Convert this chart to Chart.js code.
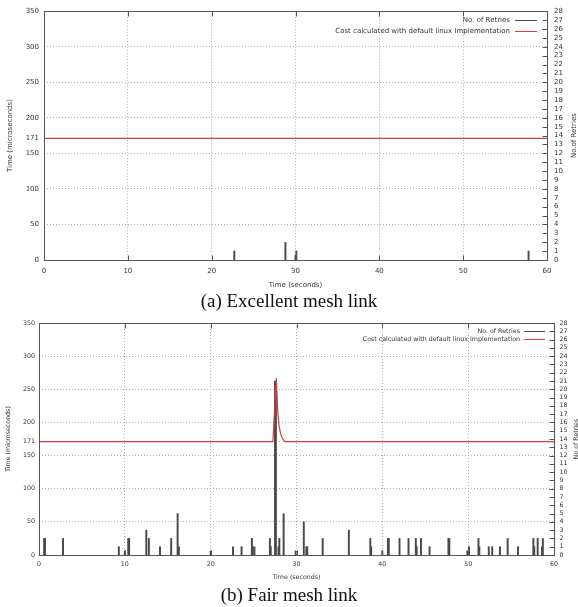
<!DOCTYPE html>
<html>
<head>
<meta charset="utf-8">
<script src="https://cdn.jsdelivr.net/npm/chart.js@4.4.0/dist/chart.umd.min.js"></script>
<style>
    body { margin: 0; background: #fff; width: 578px; height: 607px; position: relative; overflow: hidden; }
    .box { position: absolute; left: 0; width: 578px; }
    .cap { position: absolute; left: 0; width: 578px; text-align: center; font-family: "Liberation Serif", serif; font-size: 19px; line-height: 20px; color: #111; }
</style>
</head>
<body>
<div class="box" style="top:0;height:292px"><canvas id="chartA" width="578" height="292"></canvas></div>
<div class="cap" style="top:291px">(a) Excellent mesh link</div>
<div class="box" style="top:312px;height:272px"><canvas id="chartB" width="578" height="272"></canvas></div>
<div class="cap" style="top:585px">(b) Fair mesh link</div>
<script>
// axis ticks
const timeTicks = [0, 10, 20, 30, 40, 50, 60];
const costTicks = [0, 50, 100, 150, 171, 200, 250, 300, 350];
const retryTicks = [0, 1, 2, 3, 4, 5, 6, 7, 8, 9, 10, 11, 12, 13, 14, 15, 16, 17, 18, 19, 20, 21, 22, 23, 24, 25, 26, 27, 28];

// (a) excellent link
const excellentRetryTimes = [22.7, 28.8, 30.0, 30.1, 57.8];
const excellentRetries = [1, 2, 0.5, 1, 1];
const excellentCostTimes = [0, 60];
const excellentCost = [171, 171];

// (b) fair link
const fairRetryTimes = [0.6, 0.7, 2.8, 9.3, 10.0, 10.4, 10.5, 12.5, 12.8, 14.1, 15.4, 16.15, 16.3,
    20.0, 22.6, 23.6, 24.8, 24.9, 25.1, 26.9, 27.0, 27.5, 27.6, 27.9, 28.0, 28.5, 29.9,
    30.85, 31.15, 31.25, 33.05, 36.1, 38.6, 38.7, 40.0, 40.65, 40.75, 42.0, 43.05, 43.9, 44.0,
    44.5, 45.5, 47.7, 47.8, 49.9, 50.1, 51.2, 51.3, 52.4, 52.8, 53.7, 54.6, 55.8, 57.6,
    57.7, 58.1, 58.6, 58.7];
const fairRetries = [2, 2, 2, 1, 0.5, 2, 2, 3, 2, 1, 2, 5, 1,
    0.5, 1, 1, 2, 1, 1, 2, 1, 21, 20, 1, 2, 5, 0.5,
    4, 1, 1, 2, 3, 2, 1, 0.5, 2, 2, 2, 2, 2, 1,
    2, 1, 2, 2, 0.5, 1, 2, 1, 1, 1, 1, 2, 1, 2,
    1, 2, 1, 2];
const fairCostTimes = [0, 27.25, 27.65, 27.8, 27.95, 28.15, 28.35, 28.65, 60];
const fairCost = [171, 171, 267, 221, 196, 183, 176, 171, 171];

const textColor = "#333";
const retryColor = "#4a4a4a";
const costColor = "#d63c3c";
const sampleColors = [retryColor, costColor]; // legend line samples, same order as datasets
const fontFamily = "'DejaVu Sans', sans-serif";

// gnuplot-like box, inward tics, legend and y2 title
const gnuplotFrame = {
    id: "gnuplotFrame",
    afterDatasetsDraw(chart, args, o) {
        const { ctx, chartArea: a, scales } = chart;
        ctx.save();
        ctx.strokeStyle = "#555";
        ctx.lineWidth = 1;
        const l = Math.round(a.left) + 0.5, t = Math.round(a.top) + 0.5;
        const r = Math.round(a.right) + 0.5, b = Math.round(a.bottom) + 0.5;
        ctx.strokeRect(l, t, r - l, b - t);
        ctx.beginPath();
        scales.x.ticks.forEach((tk) => {
            const px = Math.round(scales.x.getPixelForValue(tk.value)) + 0.5;
            ctx.moveTo(px, b); ctx.lineTo(px, b - o.tick);
            ctx.moveTo(px, t); ctx.lineTo(px, t + o.tick);
        });
        scales.y2.ticks.forEach((tk) => {
            const py = Math.round(scales.y2.getPixelForValue(tk.value)) + 0.5;
            ctx.moveTo(r, py); ctx.lineTo(r - o.tick, py);
        });
        ctx.stroke();

        ctx.font = o.fontSize + "px " + fontFamily;
        ctx.textAlign = "right";
        ctx.textBaseline = "middle";
        chart.data.datasets.forEach((ds, i) => {
            const y = Math.round(a.top + o.legendTop + i * o.legendRow) + 0.5;
            const x1 = a.right - o.sampleRight;
            const x0 = x1 - o.sampleLen;
            ctx.fillStyle = textColor;
            ctx.fillText(ds.label, x0 - o.gap, y);
            ctx.strokeStyle = sampleColors[i];
            ctx.lineWidth = 1;
            ctx.beginPath();
            ctx.moveTo(x0, y); ctx.lineTo(x1, y);
            ctx.stroke();
        });

        ctx.translate(scales.y2.right - o.y2TitleInset, (a.top + a.bottom) / 2);
        ctx.rotate(-Math.PI / 2);
        ctx.textAlign = "center";
        ctx.fillStyle = textColor;
        ctx.fillText(o.y2Title, 0, 0);
        ctx.restore();
    },
};

function makeChart(id, retryTimes, retries, costTimes, costs, s) {
    const ctx = document.getElementById(id).getContext("2d");
    const W = ctx.canvas.width, H = ctx.canvas.height;
    const font = { family: fontFamily, size: s.fontSize };
    const grid = { color: "#b0b0b0", lineWidth: 1, drawTicks: false };
    return new Chart(ctx, {
        type: "line",
        data: {
            datasets: [
                {
                    type: "bar",
                    label: "No. of Retries",
                    data: retryTimes.map((x, i) => ({ x: x, y: retries[i] })),
                    yAxisID: "y2",
                    backgroundColor: retryColor,
                    borderWidth: 0,
                    barThickness: 1.3,
                    order: 1,
                },
                {
                    label: "Cost calculated with default linux Implementation",
                    data: costTimes.map((x, i) => ({ x: x, y: costs[i] })),
                    yAxisID: "y",
                    borderColor: costColor,
                    borderWidth: 1.2,
                    pointRadius: 0,
                    tension: 0,
                    order: 0,
                },
            ],
        },
        options: {
            responsive: false,
            animation: false,
            events: [],
            layout: { padding: { top: s.top, left: 0, right: 0, bottom: 0 } },
            plugins: {
                legend: { display: false },
                tooltip: { enabled: false },
                gnuplotFrame: {
                    tick: 5,
                    fontSize: s.fontSize,
                    legendTop: s.legendTop,
                    legendRow: s.legendRow,
                    sampleRight: s.sampleRight,
                    sampleLen: s.sampleLen,
                    gap: s.gap,
                    y2Title: "No.of Retries",
                    y2TitleInset: s.y2TitleInset,
                },
            },
            scales: {
                x: {
                    type: "linear",
                    min: 0,
                    max: 60,
                    offset: false,
                    grid: Object.assign({ offset: false }, grid),
                    border: { display: false, dash: [1, 2] },
                    afterBuildTicks: (sc) => { sc.ticks = timeTicks.map((v) => ({ value: v })); },
                    afterFit: (sc) => { sc.height = H - s.bottom; },
                    ticks: { font: font, color: textColor, padding: s.xPad, maxRotation: 0, autoSkip: false },
                    title: { display: true, text: "Time (seconds)", font: font, color: textColor, padding: { top: 0, bottom: s.xTitlePad } },
                },
                y: {
                    type: "linear",
                    position: "left",
                    min: 0,
                    max: 350,
                    grid: grid,
                    border: { display: false, dash: [1, 2] },
                    afterBuildTicks: (sc) => { sc.ticks = costTicks.map((v) => ({ value: v })); },
                    afterFit: (sc) => { sc.width = s.left; },
                    ticks: { font: font, color: textColor, padding: s.yPad, autoSkip: false },
                    title: { display: true, text: "Time (microseconds)", font: font, color: textColor, padding: { top: s.yTitlePad, bottom: 0 } },
                },
                y2: {
                    type: "linear",
                    position: "right",
                    min: 0,
                    max: 28,
                    grid: { display: false, drawOnChartArea: false, drawTicks: false },
                    border: { display: false },
                    afterBuildTicks: (sc) => { sc.ticks = retryTicks.map((v) => ({ value: v })); },
                    afterFit: (sc) => { sc.width = W - s.right; },
                    ticks: { font: font, color: textColor, padding: s.y2Pad, autoSkip: false },
                },
            },
        },
        plugins: [gnuplotFrame],
    });
}

makeChart("chartA", excellentRetryTimes, excellentRetries, excellentCostTimes, excellentCost, {
    fontSize: 7, top: 8, bottom: 260, left: 44, right: 547,
    xPad: 7, xTitlePad: 3, yPad: 5, yTitlePad: 6, y2Pad: 7,
    legendTop: 8.7, legendRow: 10.7, sampleRight: 10, sampleLen: 22, gap: 5, y2TitleInset: 4,
});

makeChart("chartB", fairRetryTimes, fairRetries, fairCostTimes, fairCost, {
    fontSize: 6.3, top: 11, bottom: 243, left: 39, right: 554,
    xPad: 6, xTitlePad: 3.2, yPad: 4, yTitlePad: 5, y2Pad: 5.5,
    legendTop: 8, legendRow: 8.3, sampleRight: 9, sampleLen: 21, gap: 4, y2TitleInset: 2,
});
</script>
</body>
</html>
